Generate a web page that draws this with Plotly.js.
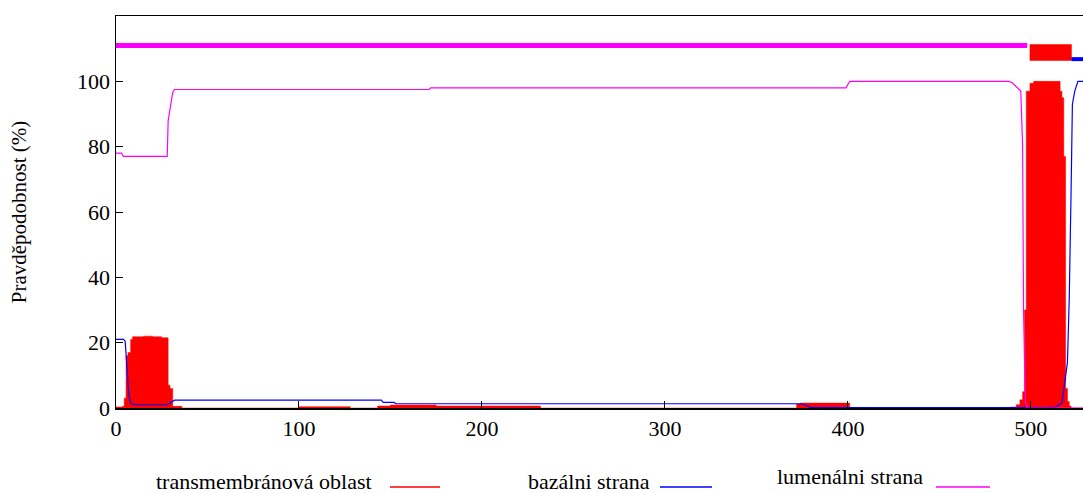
<!DOCTYPE html>
<html>
<head>
<meta charset="utf-8">
<script src="https://cdn.plot.ly/plotly-3.0.1.min.js"></script>
<style>html,body{margin:0;padding:0;background:#fff;}#chart{width:1083px;height:493px;}</style>
</head>
<body>
<div id="chart"></div>
<script>
// ---- Data ----
// Transmembrane probability (step breakpoints, residue position -> %)
const redX = [0, 3.5, 4.5, 5.5, 6.5, 8, 9, 15, 20, 25, 28.5, 29.5, 31, 36, 100, 128, 143, 150, 175, 232, 372, 374, 398, 401, 489, 492, 494, 495.5, 496.5, 497.5, 499.5, 501.5, 516, 517, 518, 519, 520, 521, 522, 528.5];
const redY = [0.3, 0.5, 3, 16, 17, 21, 21.8, 22, 21.8, 21.5, 7, 6, 0.5, 0, 0.4, 0, 0.6, 0.9, 0.6, 0, 1.2, 1.5, 1.5, 0, 0.3, 1, 2.5, 5, 30, 97, 99.4, 100, 97, 95, 77, 6, 2, 0.6, 0, 0];

// Basal (inside) side probability
const blueX = [0, 4, 5, 6, 7, 8, 10, 28, 30, 32, 145, 146, 152, 153, 375, 378, 380, 513, 517, 520, 521, 522, 522.7, 524, 525.7, 528.5];
const blueY = [21, 21, 20.5, 12, 4, 1.5, 1, 1, 1.8, 2.4, 2.4, 1.7, 1.7, 1.3, 1.3, 0.5, 0.1, 0.1, 1.5, 14, 34, 67, 93, 97, 100, 100];

// Lumenal (outside) side probability
const magX = [0, 3, 4, 28, 28.5, 29.5, 30, 31, 32, 171, 172, 399, 401, 488, 490, 492, 494.5, 495.5, 496, 497, 498, 528.5];
const magY = [78, 78, 77, 77, 88, 91.7, 94, 96.6, 97.5, 97.5, 98, 98, 100, 100, 99.5, 98.5, 97, 80, 30, 2, 0, 0];

// Predicted topology segments
const lumenSeg = [0, 498];
const tmSeg = [499.5, 522.2];
const basalSeg = [522.2, 528.5];

// Tick labels
const xTicks = [0, 100, 200, 300, 400, 500];
const yTicks = [0, 20, 40, 60, 80, 100];

// Legend labels
const legendLabels = ["transmembránová oblast", "bazálni strana", "lumenálni strana"];

// ---- Styling ----
const RED = "#ff0000", BLUE = "#0000ff", MAG = "#ff00ff";
const FONT = "Liberation Serif, Times New Roman, serif";

const traces = [
  {x: redX, y: redY, type: "scatter", mode: "lines", line: {shape: "hv", color: RED, width: 0.5},
   fill: "tozeroy", fillcolor: RED, hoverinfo: "skip"},
  {x: blueX, y: blueY, type: "scatter", mode: "lines", line: {color: BLUE, width: 1.2}, hoverinfo: "skip"},
  {x: magX, y: magY, type: "scatter", mode: "lines", line: {color: MAG, width: 1.2}, hoverinfo: "skip"},
  // topology bar on top
  {x: lumenSeg, y: [111, 111], type: "scatter", mode: "lines", line: {color: MAG, width: 5}, hoverinfo: "skip"},
  {x: [tmSeg[0], tmSeg[1], tmSeg[1], tmSeg[0], tmSeg[0]], y: [106.4, 106.4, 111.3, 111.3, 106.4],
   type: "scatter", mode: "lines", fill: "toself", fillcolor: RED, line: {color: RED, width: 0.5}, hoverinfo: "skip"},
  {x: basalSeg, y: [106.8, 106.8], type: "scatter", mode: "lines", line: {color: BLUE, width: 4}, hoverinfo: "skip"}
];

// pixel -> paper helpers for legend placement
const L = 116, R = 1083, T = 16, B = 408;
const px = v => (v - L) / (R - L);
const py = v => (B - v) / (B - T);

const legendItems = [
  {text: legendLabels[0], textRight: 373, lineX: [390, 440], color: RED, tb: 495},
  {text: legendLabels[1], textRight: 651, lineX: [660, 712], color: BLUE, tb: 495},
  {text: legendLabels[2], textRight: 924, lineX: [936, 990], color: MAG, tb: 490}
];

const annotations = legendItems.map(it => ({
  text: it.text, xref: "paper", yref: "paper", x: px(it.textRight), y: py(it.tb),
  xanchor: "right", yanchor: "bottom", showarrow: false, borderpad: 0,
  font: {family: FONT, size: 22, color: "#000"}
}));
const shapes = legendItems.map(it => ({
  type: "line", xref: "paper", yref: "paper", x0: px(it.lineX[0]), x1: px(it.lineX[1]),
  y0: py(487), y1: py(487), line: {color: it.color, width: 1.5}
}));

const layout = {
  width: 1083, height: 493,
  margin: {l: L, r: 0, t: T, b: 493 - B, pad: 0},
  paper_bgcolor: "#fff", plot_bgcolor: "#fff",
  showlegend: false,
  font: {family: FONT, color: "#000"},
  xaxis: {
    range: [0, 528.5], tickvals: xTicks, ticktext: xTicks.map(String),
    ticks: "inside", ticklen: 7, tickcolor: "#000", tickwidth: 1,
    showline: true, linecolor: "#000", linewidth: 1.5, mirror: true,
    showgrid: false, zeroline: false,
    tickfont: {family: FONT, size: 22, color: "#000"}
  },
  yaxis: {
    range: [0, 120], tickvals: yTicks, ticktext: yTicks.map(String),
    ticks: "inside", ticklen: 7, tickcolor: "#000", tickwidth: 1,
    showline: true, linecolor: "#000", linewidth: 1.5, mirror: false,
    showgrid: false, zeroline: false,
    tickfont: {family: FONT, size: 22, color: "#000"},
    title: {text: "Pravděpodobnost (%)", font: {family: FONT, size: 21, color: "#000"}, standoff: 44}
  },
  annotations: annotations,
  shapes: shapes
};

Plotly.newPlot("chart", traces, layout, {staticPlot: true, displayModeBar: false});
</script>
</body>
</html>
